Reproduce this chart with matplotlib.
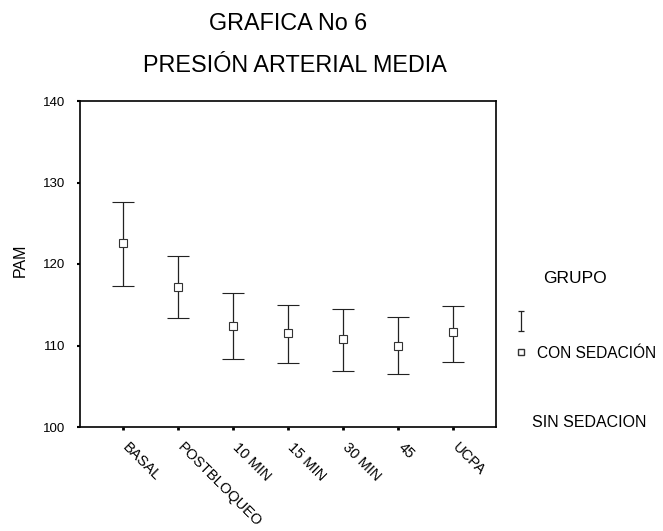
import matplotlib.pyplot as plt
import matplotlib.transforms as mtransforms
from matplotlib.lines import Line2D

plt.rcParams['font.family'] = ['Liberation Sans', 'DejaVu Sans']

momentos = ["BASAL", "POSTBLOQUEO", "10 MIN", "15 MIN", "30 MIN", "45", "UCPA"]
media = [122.6, 117.2, 112.4, 111.5, 110.8, 110.0, 111.6]
sup = [127.6, 121.0, 116.4, 115.0, 114.5, 113.5, 114.9]
inf = [117.3, 113.4, 108.3, 107.8, 106.9, 106.5, 108.0]

fig = plt.figure(figsize=(6.63, 5.31), dpi=100)
ax = fig.add_axes([80 / 663, 1 - 427 / 531, 416 / 663, 326 / 531])

x = list(range(len(momentos)))
err = [[m - i for m, i in zip(media, inf)], [s - m for s, m in zip(sup, media)]]
ax.errorbar(x, media, yerr=err, fmt='s', mfc='white', mec='#333333', ms=6,
            ecolor='#222222', elinewidth=0.9, capsize=8, capthick=0.9, mew=0.8)

ax.set_xlim(-0.78, 6.78)
ax.set_ylim(100, 140)
ax.set_yticks([100, 110, 120, 130, 140])
ax.set_xticks(x)
ax.set_xticklabels([])
# etiquetas inclinadas a mano, para poder correrlas
trans = mtransforms.blended_transform_factory(ax.transData, ax.transAxes)
trans = trans + mtransforms.ScaledTranslation(7 / 100, -13 / 100, fig.dpi_scale_trans)
for i, nombre in zip(x, momentos):
    ax.text(i, 0, nombre, transform=trans, rotation=-45, ha='left', va='top',
            rotation_mode='anchor', fontsize=10.5, clip_on=False)
ax.tick_params(axis='y', labelsize=9.5, length=2.5, width=1.5, pad=8)
ax.tick_params(axis='x', length=2.5, width=2)
for s in ax.spines.values():
    s.set_linewidth(1.2)
fig.text(20 / 663, 1 - 260 / 531, "PAM", rotation=90, ha='center', va='center', fontsize=11.5)

fig.text(288 / 663, 1 - 30 / 531, "GRAFICA No 6", ha='center', va='baseline', fontsize=16.8)
fig.text(295 / 663, 1 - 72 / 531, "PRESIÓN ARTERIAL MEDIA", ha='center', va='baseline', fontsize=16.8)

# leyenda
fig.text(543 / 663, 1 - 283 / 531, "GRUPO", ha='left', va='baseline', fontsize=12.5)
eb = fig.add_axes([510 / 663, 1 - 332 / 531, 22 / 663, 22 / 531])
eb.errorbar([0], [0], yerr=[[1], [1]], fmt='none', ecolor='#222222', elinewidth=0.9, capsize=2.5, capthick=0.9)
eb.set_xlim(-1, 1)
eb.set_ylim(-1.1, 1.1)
eb.axis('off')
fig.lines.append(Line2D([521 / 663], [1 - 352 / 531], marker='s', mfc='white', mec='#333333', ms=5,
                        transform=fig.transFigure, linestyle='none'))
fig.text(537 / 663, 1 - 358 / 531, "CON SEDACIÓN", ha='left', va='baseline', fontsize=11.2)
fig.text(532 / 663, 1 - 427 / 531, "SIN SEDACION", ha='left', va='baseline', fontsize=11.5)

fig.savefig("out.png", dpi=100)
